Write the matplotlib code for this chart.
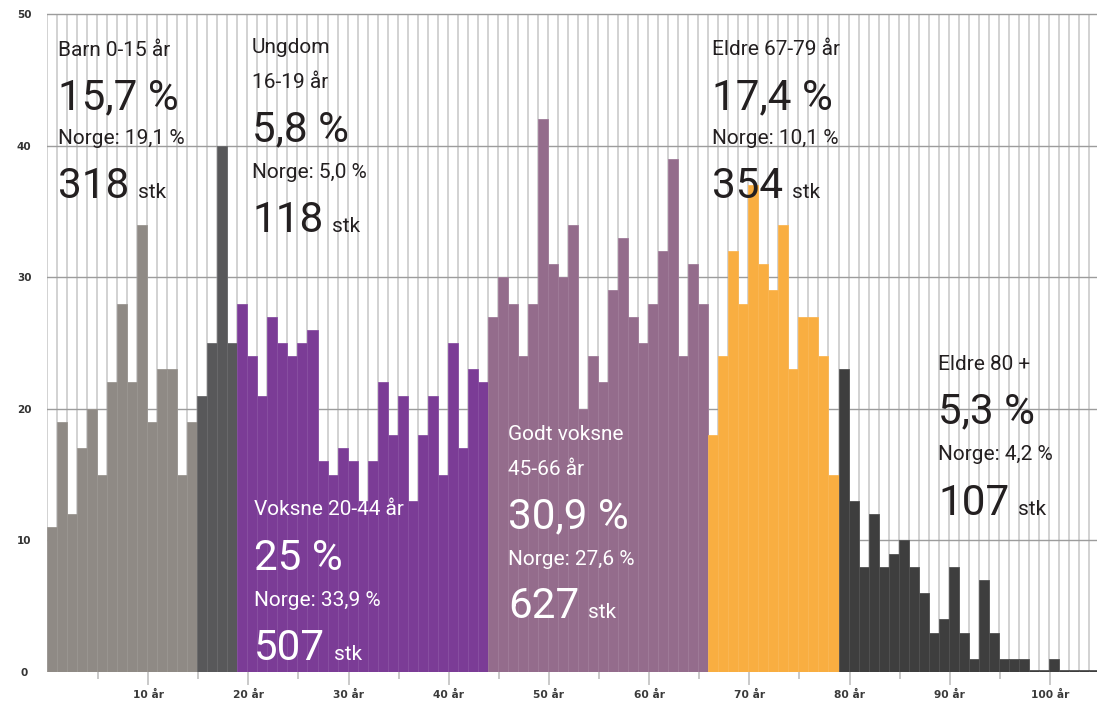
import matplotlib
matplotlib.use("Agg")
import matplotlib.pyplot as plt
import matplotlib.colors as mcolors
import numpy as np

# ---------------- data ----------------
ages = list(range(1, 106))
counts = (
    [11, 19, 12, 17, 20, 15, 22, 28, 22, 34, 19, 23, 23, 15, 19]            # 1-15
    + [21, 25, 40, 25]                                                       # 16-19
    + [28, 24, 21, 27, 25, 24, 25, 26, 16, 15, 17, 16, 13, 16, 22, 18, 21,
       13, 18, 21, 15, 25, 17, 23, 22]                                       # 20-44
    + [27, 30, 28, 24, 28, 42, 31, 30, 34, 20, 24, 22, 29, 33, 27, 25, 28,
       32, 39, 24, 31, 28]                                                   # 45-66
    + [18, 24, 32, 28, 37, 31, 29, 34, 23, 27, 27, 24, 15]                   # 67-79
    + [23, 13, 8, 12, 8, 9, 10, 8, 6, 3, 4, 8, 3, 1, 7, 3, 1, 1, 1, 0, 0, 1,
       0, 0, 0, 0]                                                           # 80-105
)
group_first = [1, 16, 20, 45, 67, 80]
group_last = [15, 19, 44, 66, 79, 105]
group_titles = [["Barn 0-15 år"], ["Ungdom", "16-19 år"], ["Voksne 20-44 år"],
                ["Godt voksne", "45-66 år"], ["Eldre 67-79 år"], ["Eldre 80 +"]]
group_pct = ["15,7 %", "5,8 %", "25 %", "30,9 %", "17,4 %", "5,3 %"]
group_norge = ["Norge: 19,1 %", "Norge: 5,0 %", "Norge: 33,9 %",
               "Norge: 27,6 %", "Norge: 10,1 %", "Norge: 4,2 %"]
group_count = ["318", "118", "507", "627", "354", "107"]
major_ticks = [10, 20, 30, 40, 50, 60, 70, 80, 90, 100]
major_labels = ["10 år", "20 år", "30 år", "40 år", "50 år", "60 år",
                "70 år", "80 år", "90 år", "100 år"]
minor_ticks = [5, 15, 25, 35, 45, 55, 65, 75, 85, 95]
y_ticks = [0, 10, 20, 30, 40, 50]

# ---------------- style ----------------
group_colors = ["#8f8a85", "#58585a", "#7b3c96", "#946c8c", "#f9ae41", "#3e3e3e"]
text_colors = ["#231f20", "#231f20", "#ffffff", "#ffffff", "#231f20", "#231f20"]
# text layout in pixels: x, title baselines, pct baseline, norge baseline, count baseline
layout = [
    (58, [56], 109, 144, 198),
    (252, [53, 88], 141, 178, 232),
    (254, [515], 570, 606, 660),
    (508, [440, 475], 528, 565, 618),
    (712, [55], 109, 144, 198),
    (938, [370], 423, 460, 515),
]
FONT = ["Roboto", "DejaVu Sans"]
W, H = 1097, 701

fig = plt.figure(figsize=(W / 100, H / 100), dpi=100)
top_px, bot_px, left_px = 12.7, 672, 47
ax = fig.add_axes([left_px / W, 1 - bot_px / H, 1 - left_px / W, (bot_px - top_px) / H])

ages_a = np.array(ages)
counts_a = np.array(counts, dtype=float)
heights = np.maximum(counts_a, 0.12)


def lighten(c, f):
    r, g, b = mcolors.to_rgb(c)
    return (r + (1 - r) * f, g + (1 - g) * f, b + (1 - b) * f)


for g in range(len(group_first)):
    m = (ages_a >= group_first[g]) & (ages_a <= group_last[g])
    ax.bar(ages_a[m], heights[m], width=1.0, color=group_colors[g],
           edgecolor=lighten(group_colors[g], 0.10), linewidth=0.6, zorder=2)

# vertical grid at every bar boundary
ax.vlines(np.arange(0.5, 106.5, 1.0), 0, 50, color="#c6c6c6", lw=1.1, zorder=0.5)

ax.set_xlim(0.5, 105.3)
ax.set_ylim(0, 50.1)
ax.set_yticks(y_ticks)
ax.set_yticklabels([str(v) for v in y_ticks], fontsize=7.5, fontweight="bold",
                   color="#333333", family="DejaVu Sans", ha="center")
ax.yaxis.grid(True, color="#9c9c9c", lw=1.0, zorder=0)
ax.set_axisbelow(True)
ax.tick_params(axis="y", length=0, pad=16.5)

off = 0.6
ax.set_xticks([t + off for t in major_ticks])
ax.set_xticklabels(major_labels, fontsize=7.7, fontweight="bold", color="#3a3a3a",
                   family="DejaVu Sans")
ax.set_xticks([t + off for t in minor_ticks], minor=True)
ax.tick_params(axis="x", which="major", length=9.4, width=1.1, color="#bbbbbb", pad=3.5)
ax.tick_params(axis="x", which="minor", length=5, width=1.1, color="#bbbbbb")

for s in ax.spines.values():
    s.set_visible(False)

SMALL, BIG = 15.0, 30.3


def ptext(x, base, s, size, color):
    return fig.text(x / W, 1 - base / H, s, fontsize=size, color=color,
                    va="baseline", ha="left", family=FONT)


count_texts = []
for g, (x, tb, pb, nb, cb) in enumerate(layout):
    col = text_colors[g]
    for line, b in zip(group_titles[g], tb):
        ptext(x, b, line, SMALL, col)
    ptext(x, pb, group_pct[g], BIG, col)
    ptext(x, nb, group_norge[g], SMALL, col)
    t = ptext(x, cb, group_count[g], BIG, col)
    count_texts.append((t, cb, col))

fig.canvas.draw()
r = fig.canvas.get_renderer()
for t, cb, col in count_texts:
    bb = t.get_window_extent(renderer=r)
    ptext(bb.x1 + 9, cb, "stk", SMALL, col)

fig.savefig("out.png", dpi=100)
